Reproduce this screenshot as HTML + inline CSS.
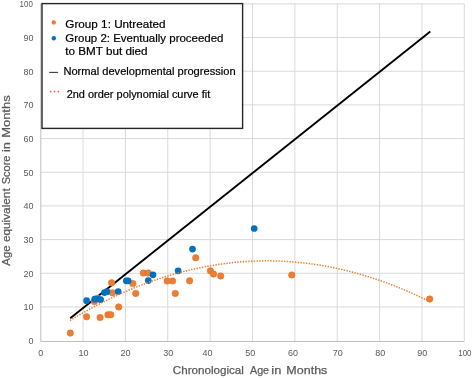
<!DOCTYPE html><html><head><meta charset="utf-8"><style>html,body{margin:0;padding:0;background:#fff;width:472px;height:378px;overflow:hidden}svg{display:block;will-change:transform}text{font-family:"Liberation Sans",sans-serif}</style></head><body>
<svg width="472" height="378" viewBox="0 0 472 378">
<rect width="472" height="378" fill="#fff"/>
<path d="M40.70 306.94H464.30 M83.06 3.87V341 M40.70 273.26H464.30 M125.42 3.87V341 M40.70 239.59H464.30 M167.78 3.87V341 M40.70 205.91H464.30 M210.14 3.87V341 M40.70 172.24H464.30 M252.50 3.87V341 M40.70 138.57H464.30 M294.86 3.87V341 M40.70 104.89H464.30 M337.22 3.87V341 M40.70 71.22H464.30 M379.58 3.87V341 M40.70 37.54H464.30 M421.94 3.87V341 M40.70 3.87H464.30 M464.30 3.87V341" stroke="#d9d9d9" stroke-width="1" fill="none"/>
<path d="M40.8 3.87V341.5H464.30" stroke="#bfbfbf" stroke-width="1" fill="none"/>
<text x="33.4" y="344.01" font-size="9" fill="#595959" text-anchor="end">0</text>
<text x="40.80" y="355.9" font-size="9" fill="#595959" text-anchor="middle">0</text>
<text x="33.4" y="310.34" font-size="9" fill="#595959" text-anchor="end">10</text>
<text x="83.60" y="355.9" font-size="9" fill="#595959" text-anchor="middle">10</text>
<text x="33.4" y="276.66" font-size="9" fill="#595959" text-anchor="end">20</text>
<text x="125.60" y="355.9" font-size="9" fill="#595959" text-anchor="middle">20</text>
<text x="33.4" y="242.99" font-size="9" fill="#595959" text-anchor="end">30</text>
<text x="168.30" y="355.9" font-size="9" fill="#595959" text-anchor="middle">30</text>
<text x="33.4" y="209.31" font-size="9" fill="#595959" text-anchor="end">40</text>
<text x="207.40" y="355.9" font-size="9" fill="#595959" text-anchor="middle">40</text>
<text x="33.4" y="175.64" font-size="9" fill="#595959" text-anchor="end">50</text>
<text x="250.20" y="355.9" font-size="9" fill="#595959" text-anchor="middle">50</text>
<text x="33.4" y="141.97" font-size="9" fill="#595959" text-anchor="end">60</text>
<text x="293.00" y="355.9" font-size="9" fill="#595959" text-anchor="middle">60</text>
<text x="33.4" y="108.29" font-size="9" fill="#595959" text-anchor="end">70</text>
<text x="337.80" y="355.9" font-size="9" fill="#595959" text-anchor="middle">70</text>
<text x="33.4" y="74.62" font-size="9" fill="#595959" text-anchor="end">80</text>
<text x="380.30" y="355.9" font-size="9" fill="#595959" text-anchor="middle">80</text>
<text x="33.4" y="40.94" font-size="9" fill="#595959" text-anchor="end">90</text>
<text x="422.30" y="355.9" font-size="9" fill="#595959" text-anchor="middle">90</text>
<text x="19.6" y="7.27" font-size="9" fill="#595959" textLength="13.2" lengthAdjust="spacingAndGlyphs">100</text>
<text x="458.30" y="355.9" font-size="9" fill="#595959" textLength="13.2" lengthAdjust="spacingAndGlyphs">100</text>
<line x1="70.25" y1="318.2" x2="430.3" y2="31.4" stroke="#000" stroke-width="1.9"/>
<circle cx="70.3" cy="333.1" r="3.25" fill="#ED7D31" stroke="#de6f28" stroke-width="0.5"/>
<circle cx="86.6" cy="316.8" r="3.25" fill="#ED7D31" stroke="#de6f28" stroke-width="0.5"/>
<circle cx="100.1" cy="317.6" r="3.25" fill="#ED7D31" stroke="#de6f28" stroke-width="0.5"/>
<circle cx="107.9" cy="314.8" r="3.25" fill="#ED7D31" stroke="#de6f28" stroke-width="0.5"/>
<circle cx="110.8" cy="314.7" r="3.25" fill="#ED7D31" stroke="#de6f28" stroke-width="0.5"/>
<circle cx="118.7" cy="306.9" r="3.25" fill="#ED7D31" stroke="#de6f28" stroke-width="0.5"/>
<circle cx="94.3" cy="301.6" r="3.25" fill="#ED7D31" stroke="#de6f28" stroke-width="0.5"/>
<circle cx="97.5" cy="298.3" r="3.25" fill="#ED7D31" stroke="#de6f28" stroke-width="0.5"/>
<circle cx="111.6" cy="282.8" r="3.25" fill="#ED7D31" stroke="#de6f28" stroke-width="0.5"/>
<circle cx="112.4" cy="292.8" r="3.25" fill="#ED7D31" stroke="#de6f28" stroke-width="0.5"/>
<circle cx="132.8" cy="283.6" r="3.25" fill="#ED7D31" stroke="#de6f28" stroke-width="0.5"/>
<circle cx="135.7" cy="293.4" r="3.25" fill="#ED7D31" stroke="#de6f28" stroke-width="0.5"/>
<circle cx="143.3" cy="273.0" r="3.25" fill="#ED7D31" stroke="#de6f28" stroke-width="0.5"/>
<circle cx="148.2" cy="273.0" r="3.25" fill="#ED7D31" stroke="#de6f28" stroke-width="0.5"/>
<circle cx="167.2" cy="280.9" r="3.25" fill="#ED7D31" stroke="#de6f28" stroke-width="0.5"/>
<circle cx="172.6" cy="280.9" r="3.25" fill="#ED7D31" stroke="#de6f28" stroke-width="0.5"/>
<circle cx="175.3" cy="293.4" r="3.25" fill="#ED7D31" stroke="#de6f28" stroke-width="0.5"/>
<circle cx="189.6" cy="280.8" r="3.25" fill="#ED7D31" stroke="#de6f28" stroke-width="0.5"/>
<circle cx="195.7" cy="257.8" r="3.25" fill="#ED7D31" stroke="#de6f28" stroke-width="0.5"/>
<circle cx="210.4" cy="270.8" r="3.25" fill="#ED7D31" stroke="#de6f28" stroke-width="0.5"/>
<circle cx="213.5" cy="274.1" r="3.25" fill="#ED7D31" stroke="#de6f28" stroke-width="0.5"/>
<circle cx="220.7" cy="275.9" r="3.25" fill="#ED7D31" stroke="#de6f28" stroke-width="0.5"/>
<circle cx="291.75" cy="275.0" r="3.25" fill="#ED7D31" stroke="#de6f28" stroke-width="0.5"/>
<circle cx="429.7" cy="299.0" r="3.25" fill="#ED7D31" stroke="#de6f28" stroke-width="0.5"/>
<circle cx="86.6" cy="300.7" r="3.35" fill="#0070C0"/>
<circle cx="94.7" cy="299.2" r="3.35" fill="#0070C0"/>
<circle cx="97.6" cy="299.0" r="3.35" fill="#0070C0"/>
<circle cx="100.6" cy="299.6" r="3.35" fill="#0070C0"/>
<circle cx="104.5" cy="292.6" r="3.35" fill="#0070C0"/>
<circle cx="106.9" cy="291.7" r="3.35" fill="#0070C0"/>
<circle cx="118.2" cy="291.5" r="3.35" fill="#0070C0"/>
<circle cx="126.3" cy="280.8" r="3.35" fill="#0070C0"/>
<circle cx="128.2" cy="280.8" r="3.35" fill="#0070C0"/>
<circle cx="148.3" cy="280.6" r="3.35" fill="#0070C0"/>
<circle cx="153.0" cy="274.8" r="3.35" fill="#0070C0"/>
<circle cx="178.1" cy="270.8" r="3.35" fill="#0070C0"/>
<circle cx="192.5" cy="249.1" r="3.35" fill="#0070C0"/>
<circle cx="254.2" cy="228.5" r="3.35" fill="#0070C0"/>
<polyline points="69.92,320.51 72.17,319.15 74.42,317.81 76.67,316.48 78.93,315.17 81.18,313.88 83.43,312.60 85.68,311.34 87.94,310.09 90.19,308.86 92.44,307.64 94.69,306.44 96.95,305.26 99.20,304.09 101.45,302.93 103.70,301.80 105.96,300.67 108.21,299.57 110.46,298.48 112.71,297.40 114.97,296.34 117.22,295.29 119.47,294.27 121.73,293.25 123.98,292.26 126.23,291.27 128.48,290.31 130.74,289.36 132.99,288.42 135.24,287.50 137.49,286.60 139.75,285.71 142.00,284.83 144.25,283.98 146.50,283.14 148.76,282.31 151.01,281.50 153.26,280.70 155.51,279.93 157.77,279.16 160.02,278.41 162.27,277.68 164.52,276.96 166.78,276.26 169.03,275.58 171.28,274.91 173.53,274.25 175.79,273.61 178.04,272.99 180.29,272.38 182.54,271.79 184.80,271.21 187.05,270.65 189.30,270.11 191.55,269.58 193.81,269.06 196.06,268.57 198.31,268.08 200.56,267.62 202.82,267.16 205.07,266.73 207.32,266.31 209.57,265.90 211.83,265.51 214.08,265.14 216.33,264.78 218.58,264.44 220.84,264.11 223.09,263.80 225.34,263.51 227.59,263.23 229.85,262.96 232.10,262.71 234.35,262.48 236.60,262.26 238.86,262.06 241.11,261.87 243.36,261.70 245.61,261.55 247.87,261.41 250.12,261.28 252.37,261.18 254.62,261.08 256.88,261.01 259.13,260.94 261.38,260.90 263.64,260.87 265.89,260.85 268.14,260.85 270.39,260.87 272.65,260.90 274.90,260.95 277.15,261.01 279.40,261.09 281.66,261.19 283.91,261.30 286.16,261.42 288.41,261.56 290.67,261.72 292.92,261.89 295.17,262.08 297.42,262.28 299.68,262.50 301.93,262.74 304.18,262.99 306.43,263.26 308.69,263.54 310.94,263.83 313.19,264.15 315.44,264.48 317.70,264.82 319.95,265.18 322.20,265.55 324.45,265.95 326.71,266.35 328.96,266.77 331.21,267.21 333.46,267.66 335.72,268.13 337.97,268.62 340.22,269.12 342.47,269.63 344.73,270.17 346.98,270.71 349.23,271.27 351.48,271.85 353.74,272.45 355.99,273.06 358.24,273.68 360.49,274.32 362.75,274.98 365.00,275.65 367.25,276.34 369.50,277.04 371.76,277.76 374.01,278.49 376.26,279.24 378.51,280.01 380.77,280.79 383.02,281.58 385.27,282.40 387.52,283.22 389.78,284.07 392.03,284.93 394.28,285.80 396.53,286.69 398.79,287.60 401.04,288.52 403.29,289.46 405.55,290.41 407.80,291.38 410.05,292.36 412.30,293.36 414.56,294.37 416.81,295.40 419.06,296.45 421.31,297.51 423.57,298.59 425.82,299.68 428.07,300.79" fill="none" stroke="#ED7D31" stroke-width="1.5" stroke-dasharray="1.4 1.35"/>
<rect x="42" y="3.6" width="200.6" height="124.8" fill="#fff" stroke="#262626" stroke-width="1.4"/>
<circle cx="53.8" cy="22.4" r="2.2" fill="#ED7D31"/>
<circle cx="53.8" cy="38.3" r="2.2" fill="#0070C0"/>
<line x1="49.2" y1="72.4" x2="58.1" y2="72.4" stroke="#3a3a3a" stroke-width="1.1"/>
<rect x="49.95" y="90.85" width="1.5" height="1.5" fill="#f0602a"/>
<rect x="53.75" y="90.85" width="1.5" height="1.5" fill="#f0602a"/>
<rect x="57.55" y="90.85" width="1.5" height="1.5" fill="#f0602a"/>
<text x="65.3" y="27.8" font-size="10.8" fill="#000" stroke="#000" stroke-width="0.2" textLength="100.3" lengthAdjust="spacingAndGlyphs">Group 1: Untreated</text>
<text x="65.3" y="41.7" font-size="10.8" fill="#000" stroke="#000" stroke-width="0.2" textLength="158.2" lengthAdjust="spacingAndGlyphs">Group 2: Eventually proceeded</text>
<text x="65.3" y="54.9" font-size="10.8" fill="#000" stroke="#000" stroke-width="0.2" textLength="82.3" lengthAdjust="spacingAndGlyphs">to BMT but died</text>
<text x="63.4" y="75.3" font-size="10.8" fill="#000" stroke="#000" stroke-width="0.2" textLength="172.2" lengthAdjust="spacingAndGlyphs">Normal developmental progression</text>
<text x="66.7" y="97.8" font-size="10.8" fill="#000" stroke="#000" stroke-width="0.2" textLength="143.5" lengthAdjust="spacingAndGlyphs">2nd order polynomial curve fit</text>
<text x="172.82" y="374.0" font-size="11.8" fill="#595959" stroke="#595959" stroke-width="0.25" textLength="71.07" lengthAdjust="spacingAndGlyphs">Chronological</text>
<text x="249.97" y="374.0" font-size="11.8" fill="#595959" stroke="#595959" stroke-width="0.25" textLength="19.10" lengthAdjust="spacingAndGlyphs">Age</text>
<text x="271.33" y="374.0" font-size="11.8" fill="#595959" stroke="#595959" stroke-width="0.25" textLength="10.02" lengthAdjust="spacingAndGlyphs">in</text>
<text x="286.37" y="374.0" font-size="11.8" fill="#595959" stroke="#595959" stroke-width="0.25" textLength="40.96" lengthAdjust="spacingAndGlyphs">Months</text>
<text transform="translate(10.2,0) rotate(-90)" x="-265.63" y="0" font-size="11.8" fill="#595959" stroke="#595959" stroke-width="0.25" textLength="20.34" lengthAdjust="spacingAndGlyphs">Age</text>
<text transform="translate(10.2,0) rotate(-90)" x="-242.10" y="0" font-size="11.8" fill="#595959" stroke="#595959" stroke-width="0.25" textLength="53.78" lengthAdjust="spacingAndGlyphs">equivalent</text>
<text transform="translate(10.2,0) rotate(-90)" x="-184.30" y="0" font-size="11.8" fill="#595959" stroke="#595959" stroke-width="0.25" textLength="28.79" lengthAdjust="spacingAndGlyphs">Score</text>
<text transform="translate(10.2,0) rotate(-90)" x="-152.06" y="0" font-size="11.8" fill="#595959" stroke="#595959" stroke-width="0.25" textLength="9.90" lengthAdjust="spacingAndGlyphs">in</text>
<text transform="translate(10.2,0) rotate(-90)" x="-137.87" y="0" font-size="11.8" fill="#595959" stroke="#595959" stroke-width="0.25" textLength="42.52" lengthAdjust="spacingAndGlyphs">Months</text>
</svg></body></html>
